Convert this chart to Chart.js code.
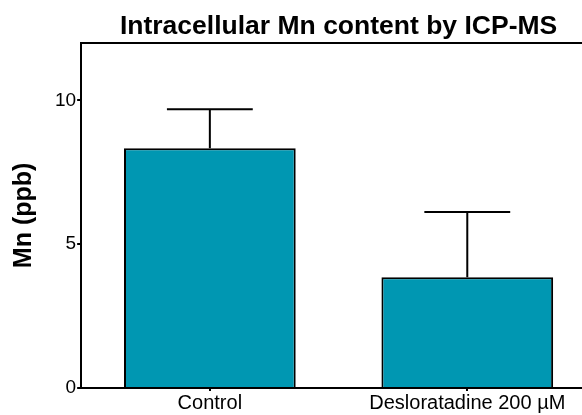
<!DOCTYPE html>
<html><head><meta charset="utf-8">
<script src="https://cdn.jsdelivr.net/npm/chart.js@4/dist/chart.umd.min.js"></script>
<style>
html,body{margin:0;padding:0;background:#fff;overflow:hidden;width:582px;height:415px;}
#wrap{position:absolute;left:0;top:0;width:596px;height:415px;}
</style></head>
<body><div id="wrap"><canvas id="c" width="596" height="415"></canvas></div>
<script>
const categories = ["Control", "Desloratadine 200 \u00b5M"];
const meanValues = [8.33, 3.85];
const errorValues = [1.36, 2.27];
const yTicks = [0, 5, 10];

const FONT = 'Liberation Sans, Arial, sans-serif';

const errorBarPlugin = {
  id: 'errorBars',
  afterDatasetsDraw(chart) {
    const ctx = chart.ctx;
    const meta = chart.getDatasetMeta(0);
    const ys = chart.scales.y;
    ctx.save();
    ctx.strokeStyle = '#000';
    ctx.lineWidth = 2;
    meta.data.forEach((bar, i) => {
      const x = bar.x;
      const yTop = ys.getPixelForValue(meanValues[i] + errorValues[i]);
      const yMean = ys.getPixelForValue(meanValues[i]);
      const half = bar.width * 0.25;
      ctx.beginPath();
      ctx.moveTo(x, yMean);
      ctx.lineTo(x, yTop);
      ctx.moveTo(x - half, yTop);
      ctx.lineTo(x + half, yTop);
      ctx.stroke();
    });
    ctx.restore();
  }
};

new Chart(document.getElementById('c'), {
  type: 'bar',
  data: {
    labels: categories,
    datasets: [{
      data: meanValues,
      backgroundColor: '#0097B2',
      borderColor: '#000',
      borderWidth: 2,
      borderSkipped: 'bottom',
      barPercentage: 0.667,
      categoryPercentage: 1.0
    }]
  },
  options: {
    responsive: false,
    animation: false,
    layout: { padding: { left: 8, right: 0, top: 0, bottom: 0 } },
    plugins: {
      legend: { display: false },
      tooltip: { enabled: false },
      title: {
        display: true,
        fullSize: false,
        text: 'Intracellular Mn content by ICP-MS',
        color: '#000',
        font: { family: FONT, size: 26.5, weight: 'bold', lineHeight: 1.2 },
        padding: { top: 11, bottom: 0 }
      }
    },
    scales: {
      x: {
        grid: { display: true, drawOnChartArea: false, drawTicks: true, tickLength: 3, color: '#000', lineWidth: 2, offset: false },
        border: { display: true, color: '#000', width: 2 },
        ticks: { color: '#000', font: { family: FONT, size: 20, lineHeight: 1.2 }, padding: 0, maxRotation: 0, autoSkip: false }
      },
      x2: {
        type: 'linear', position: 'top', display: true,
        grid: { display: false },
        ticks: { display: false },
        border: { display: true, color: '#000', width: 2 },
        afterFit(axis) { axis.height = 0; }
      },
      y: {
        min: 0, max: 12,
        afterBuildTicks(axis) { axis.ticks = yTicks.map(v => ({ value: v })); },
        grid: { display: true, drawOnChartArea: false, drawTicks: true, tickLength: 4, color: '#000', lineWidth: 2 },
        border: { display: true, color: '#000', width: 2 },
        ticks: { color: '#000', font: { family: FONT, size: 19 }, padding: 1 },
        title: { display: true, text: 'Mn (ppb)', color: '#000', font: { family: FONT, size: 25, weight: 'bold', lineHeight: 1.2 }, padding: { top: 1, bottom: 15 } }
      }
    }
  },
  plugins: [errorBarPlugin]
});
</script></body></html>
